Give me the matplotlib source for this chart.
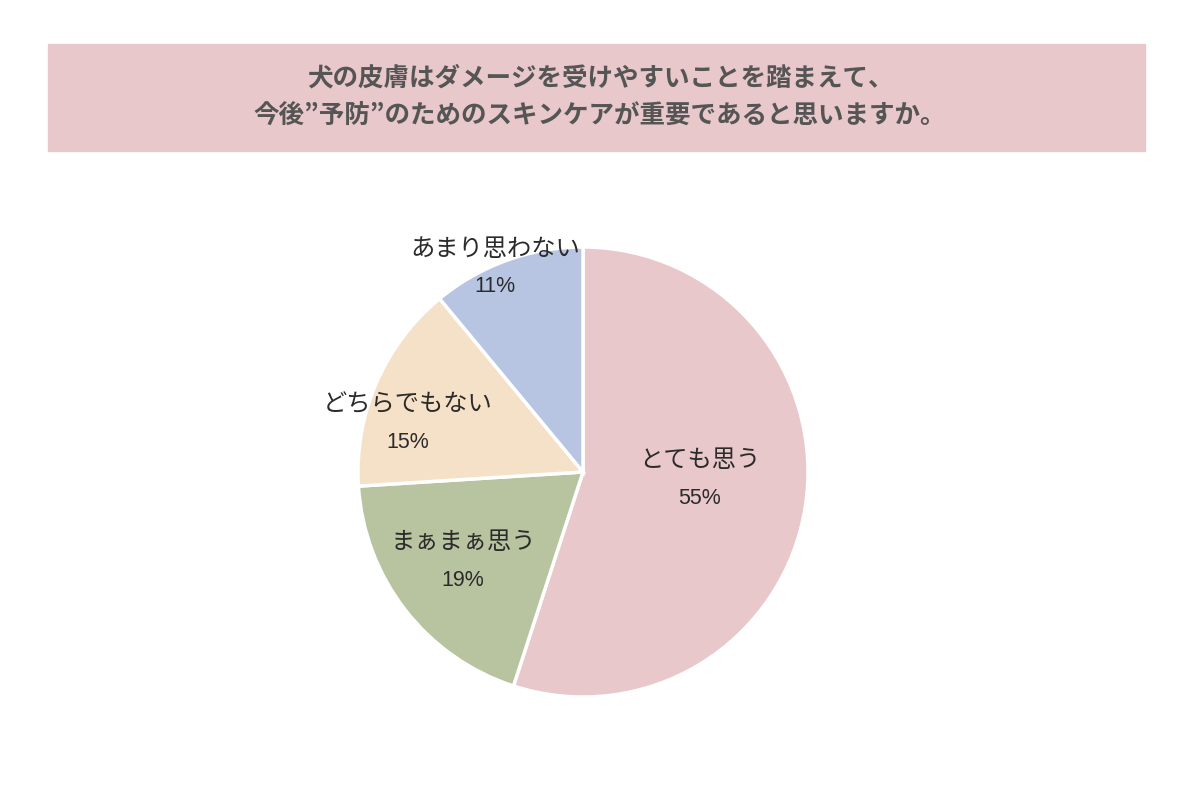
import matplotlib.pyplot as plt
from matplotlib.patches import Rectangle

plt.rcParams['font.family'] = ['Noto Sans CJK JP', 'DejaVu Sans']

title_lines = ['犬の皮膚はダメージを受けやすいことを踏まえて、',
               '今後”予防”のためのスキンケアが重要であると思いますか。']
categories = ['とても思う', 'まぁまぁ思う', 'どちらでもない', 'あまり思わない']
shares = [55, 19, 15, 11]
colors = ['#e8c8ca', '#b8c3a0', '#f4e1c7', '#b7c5e3']

# label anchor points in pixel coords (x, y from top)
label_pos = [(700, 460), (463, 542), (408, 404), (495, 249)]

fig = plt.figure(figsize=(12, 8), dpi=100)
ax = fig.add_axes([0, 0, 1, 1])
ax.set_xlim(0, 1200)
ax.set_ylim(0, 800)
ax.set_aspect('equal')
ax.axis('off')

# title banner
ax.add_patch(Rectangle((48, 800 - 151), 1097, 107, color='#e8c8ca', zorder=0))
ax.text(600, 800 - 78, title_lines[0], ha='center', va='center',
        fontsize=18.4, fontweight='bold', color='#555555')
ax.text(600, 800 - 115, title_lines[1], ha='center', va='center',
        fontsize=18.4, fontweight='bold', color='#555555')

ax.pie(shares, colors=colors, startangle=90, counterclock=False,
       center=(583, 800 - 472), radius=225,
       wedgeprops=dict(edgecolor='white', linewidth=2.5))
ax.set_xlim(0, 1200)
ax.set_ylim(0, 800)

for name, val, (x, y) in zip(categories, shares, label_pos):
    ax.text(x, 800 - y, name, ha='center', va='center', fontsize=17.5,
            color='#2b2b2b')
    ax.text(x, 800 - y - 38, f'{val}%', ha='center', va='center',
            fontsize=15.5, color='#2b2b2b', family=['Liberation Sans', 'DejaVu Sans'])

fig.savefig('out.png', dpi=100)
